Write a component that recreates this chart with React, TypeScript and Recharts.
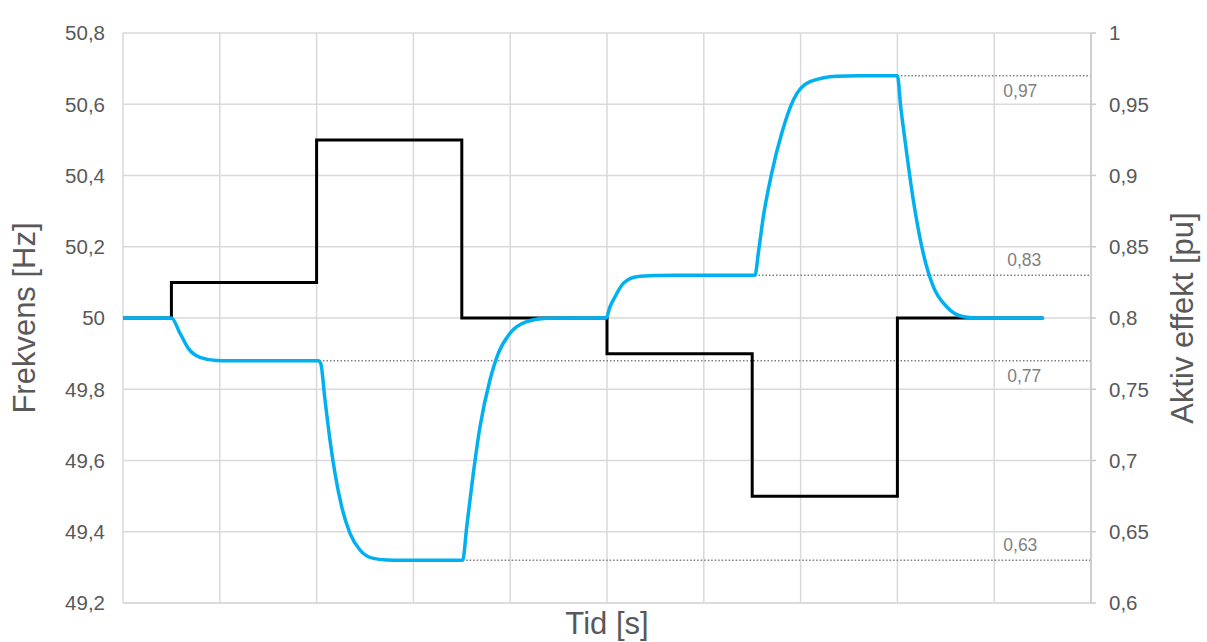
import React from "react";
import { LineChart, Line, XAxis, YAxis, CartesianGrid, ReferenceDot, Label } from "recharts";

// Time axis (unitless steps)
const timeTicks = [0, 1, 2, 3, 4, 5, 6, 7, 8, 9, 10];

// Frequency [Hz] – step series
const freqTime = [0, 0.5, 2, 3.5, 5, 6.5, 8, 9.5];
const freqValues = [50, 50.1, 50.5, 50, 49.9, 49.5, 50, 50];

// Active power [pu]
const powerTime = [
  0, 0.5, 0.589, 0.675, 0.795, 0.968, 1.1,
  2.018, 2.042, 2.087, 2.138, 2.19, 2.259, 2.345, 2.448, 2.586, 2.724, 2.9,
  3.509, 3.551, 3.619, 3.688, 3.791, 3.877, 3.998, 4.171, 4.378, 4.6,
  4.99, 5.031, 5.083, 5.168, 5.307, 5.513, 5.7,
  6.529, 6.563, 6.615, 6.701, 6.805, 6.925, 7.097, 7.373, 7.6,
  8.0, 8.034, 8.078, 8.164, 8.267, 8.371, 8.509, 8.681, 8.853, 9.5,
];
const powerValues = [
  0.8, 0.8, 0.7893, 0.7787, 0.7724, 0.7702, 0.77,
  0.77, 0.7683, 0.7424, 0.7144, 0.691, 0.6676, 0.6489, 0.6372, 0.6313, 0.6302, 0.63,
  0.63, 0.6535, 0.691, 0.7237, 0.7565, 0.7752, 0.7893, 0.7974, 0.7998, 0.8,
  0.8, 0.8079, 0.8149, 0.8243, 0.829, 0.8298, 0.83,
  0.83, 0.8454, 0.8711, 0.9015, 0.9296, 0.953, 0.9658, 0.9697, 0.97,
  0.97, 0.9483, 0.9249, 0.8828, 0.8454, 0.822, 0.8079, 0.8009, 0.8, 0.8,
];

// Annotated levels
const refLevels = [0.97, 0.83, 0.77, 0.63];
const refStarts = [8.0, 6.529, 2.03, 3.509];
const refLabels = ["0,97", "0,83", "0,77", "0,63"];
const refLabelTimes = [9.27, 9.31, 9.31, 9.27];
const refLabelSides = ["bottom", "top", "bottom", "top"];

const leftTicks = [49.2, 49.4, 49.6, 49.8, 50, 50.2, 50.4, 50.6, 50.8];
const rightTicks = [0.6, 0.65, 0.7, 0.75, 0.8, 0.85, 0.9, 0.95, 1];

const FONT = '"Liberation Sans", Arial, sans-serif';
const fmt = (v: number) => String(Number(v.toFixed(2))).replace(".", ",");
const EmptyTick = () => <g />;

export default function App() {
  const freqData = freqTime.map((t, i) => ({ t, f: freqValues[i] }));
  const powerData = powerTime.map((t, i) => ({ t, p: powerValues[i] }));
  const refData = refLevels.map((v, i) => [
    { t: refStarts[i], r: v },
    { t: 10, r: v },
  ]);

  return (
    <div style={{ position: "absolute", left: 0, top: 0, width: 1207, height: 642, background: "#fff" }}>
      <LineChart width={1207} height={642} margin={{ top: 33, right: 0, bottom: 0, left: 0 }}>
        <CartesianGrid yAxisId="left" stroke="#d9d9d9" strokeWidth={1.5} vertical={true} horizontal={true} />
        <XAxis
          dataKey="t"
          type="number"
          domain={[0, 10]}
          ticks={timeTicks}
          interval={0}
          allowDataOverflow
          tick={EmptyTick}
          tickLine={false}
          axisLine={{ stroke: "#d9d9d9", strokeWidth: 1.5 }}
          height={39}
        >
          <Label value="Tid [s]" position="insideBottom" offset={8} fill="#595959" fontSize={31} fontFamily={FONT} />
        </XAxis>
        <YAxis
          yAxisId="left"
          type="number"
          domain={[49.2, 50.8]}
          ticks={leftTicks}
          interval={0}
          width={123}
          tickLine={false}
          axisLine={false}
          tickSize={5}
          tickMargin={13}
          tick={{ fill: "#595959", fontSize: 20.5, fontFamily: FONT }}
          tickFormatter={fmt}
        >
          <Label
            value="Frekvens [Hz]"
            angle={-90}
            position="insideLeft"
            offset={24}
            style={{ textAnchor: "middle" }}
            fill="#595959"
            fontSize={31}
            fontFamily={FONT}
          />
        </YAxis>
        <YAxis
          yAxisId="right"
          orientation="right"
          type="number"
          domain={[0.6, 1]}
          ticks={rightTicks}
          interval={0}
          width={116}
          tickLine={{ stroke: "#c8c8c8", strokeWidth: 1.5 }}
          axisLine={{ stroke: "#c8c8c8", strokeWidth: 1.5 }}
          tickSize={5}
          tickMargin={13}
          tick={{ fill: "#595959", fontSize: 20.5, fontFamily: FONT }}
          tickFormatter={fmt}
        >
          <Label
            value="Aktiv effekt [pu]"
            angle={-90}
            position="insideRight"
            offset={25}
            style={{ textAnchor: "middle" }}
            fill="#595959"
            fontSize={31}
            fontFamily={FONT}
          />
        </YAxis>

        {refData.map((d, i) => (
          <Line
            key={"ref" + i}
            yAxisId="right"
            data={d}
            dataKey="r"
            type="linear"
            stroke="#7f7f7f"
            strokeWidth={1.3}
            strokeDasharray="1.5 2"
            dot={false}
            activeDot={false}
            isAnimationActive={false}
          />
        ))}

        <Line
          yAxisId="left"
          data={freqData}
          dataKey="f"
          type="stepAfter"
          stroke="#000000"
          strokeWidth={3}
          strokeLinecap="round"
          dot={false}
          activeDot={false}
          isAnimationActive={false}
        />
        <Line
          yAxisId="right"
          data={powerData}
          dataKey="p"
          type="monotone"
          stroke="#00B0F0"
          strokeWidth={3.5}
          strokeLinecap="round"
          dot={false}
          activeDot={false}
          isAnimationActive={false}
        />

        {refLevels.map((v, i) => (
          <ReferenceDot
            key={"lbl" + i}
            yAxisId="right"
            x={refLabelTimes[i]}
            y={v}
            r={0}
            fill="none"
            stroke="none"
            label={{
              value: refLabels[i],
              position: refLabelSides[i] as any,
              offset: 9,
              fill: "#7f7f7f",
              fontSize: 17.5,
              fontFamily: FONT,
            }}
          />
        ))}
      </LineChart>
    </div>
  );
}
